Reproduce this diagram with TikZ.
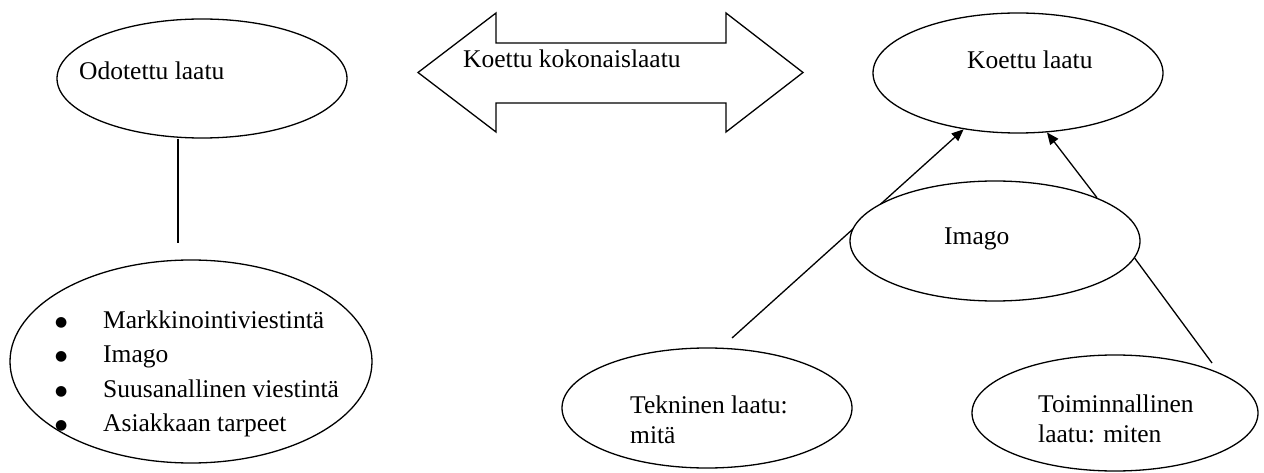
\documentclass[tikz,border=0pt]{standalone}
\usepackage{fontspec}
\setmainfont{Liberation Serif}
\newfontfamily\symfnt{DejaVu Sans}
\usetikzlibrary{arrows.meta,shapes.geometric}
\newcommand{\bigbul}{\makebox[48pt][l]{\raisebox{2pt}{\symfnt\fontsize{14}{14}\selectfont ●}}}
\begin{document}
\begin{tikzpicture}[x=1pt,y=-1pt,
  oval/.style={draw,ellipse,line width=1.3pt,fill=white,inner sep=0pt},
  txt/.style={anchor=base west,inner sep=0pt,font=\fontsize{25.5}{30}\selectfont},
  conn/.style={line width=1.3pt},
  arr/.style={line width=1.3pt,-{Triangle[length=12pt,width=10pt]}}]
\useasboundingbox[fill=white] (0,0) rectangle (1264,473);

% connectors drawn first (ellipses cover them)
\coordinate (l1e) at (178,243);
\coordinate (a1s) at (732,338);
\coordinate (l3e) at (1212,363);

\node[oval,minimum width=290pt,minimum height=119pt] (odotettu) at (202,78.5) {};
\node[oval,minimum width=290pt,minimum height=120pt] (koettu) at (1018,73) {};

\draw[arr] (a1s) -- (koettu.226.6);

\node[oval,minimum width=362pt,minimum height=203pt] (odot2) at (191,361.5) {};
\node[oval,minimum width=290pt,minimum height=120pt] (imago) at (995,241) {};
\node[oval,minimum width=290pt,minimum height=120pt] (tekn) at (707,408) {};
\node[oval,minimum width=286pt,minimum height=116pt] (toim) at (1115,413) {};

\draw[conn] (l1e |- odotettu.south) -- (l1e);
\draw[arr] (imago.23) -- (koettu.296.2);
\draw[conn] (imago.353.6) -- (l3e);

% double arrow
\draw[line width=1.3pt,line join=miter] (418,72.5) -- (496,13) -- (496,43) -- (726,43) -- (726,13)
  -- (803,72.5) -- (726,132) -- (726,103) -- (496,103) -- (496,132) -- cycle;

% texts
\node[txt] (tOdot) at (79,80) {Odotettu laatu};
\node[txt] (tKok) at (463,68) {Koettu kokonaislaatu};
\node[txt] (tKoe) at (967,69) {Koettu laatu};
\node[txt] (tIm) at (944,244) {Imago};
\node[txt] (tTek) at (630,413) {\begin{tabular}[t]{@{}l@{}}Tekninen laatu:\\mitä\end{tabular}};
\node[txt] (tToi) at (1038,412) {\begin{tabular}[t]{@{}l@{}}Toiminnallinen\\laatu: miten\end{tabular}};
\node[txt,font=\fontsize{25.5}{34.5}\selectfont] (tList) at (55,328) {\begin{tabular}[t]{@{}l@{}l@{}}
\bigbul & Markkinointiviestintä\\
\bigbul & Imago\\
\bigbul & Suusanallinen viestintä\\
\bigbul & Asiakkaan tarpeet
\end{tabular}};
\end{tikzpicture}
\end{document}
